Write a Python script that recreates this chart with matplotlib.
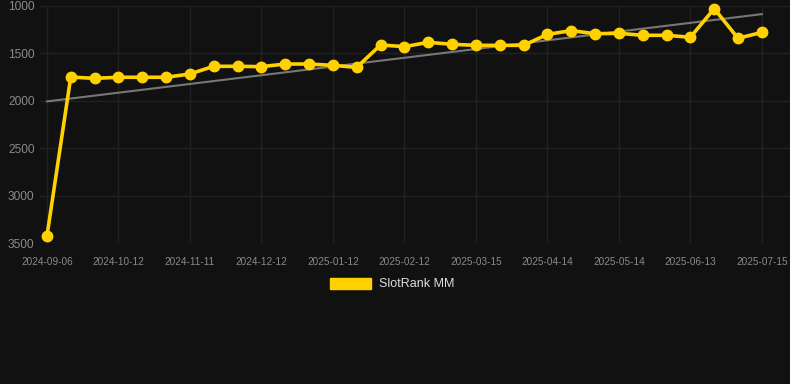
"""SlotRank MM rank history, dark theme with a linear trend line."""

import numpy as np
from matplotlib import pyplot as plt
from matplotlib.patches import Patch

# one point roughly every ten days; ticks are shown on every third point
DATES = [
    "2024-09-06", "2024-09-18", "2024-09-30",
    "2024-10-12", "2024-10-22", "2024-11-01",
    "2024-11-11", "2024-11-21", "2024-12-02",
    "2024-12-12", "2024-12-22", "2025-01-02",
    "2025-01-12", "2025-01-22", "2025-02-02",
    "2025-02-12", "2025-02-22", "2025-03-05",
    "2025-03-15", "2025-03-25", "2025-04-04",
    "2025-04-14", "2025-04-24", "2025-05-04",
    "2025-05-14", "2025-05-24", "2025-06-03",
    "2025-06-13", "2025-06-23", "2025-07-04",
    "2025-07-15",
]
RANKS = [
    3430, 1750, 1763, 1752, 1752, 1752, 1717, 1636, 1636, 1640, 1612,
    1612, 1626, 1647, 1411, 1429, 1383, 1404, 1415, 1415, 1415, 1299,
    1260, 1292, 1288, 1309, 1309, 1330, 1028, 1341, 1278,
]
Y_TICKS = [1000, 1500, 2000, 2500, 3000, 3500]
SERIES_LABEL = "SlotRank MM"

BG = "#111111"
GRID = "#212121"
TICK_TEXT = "#8a8a8a"
YELLOW = "#ffd100"

plt.rcParams["font.family"] = ["Liberation Sans", "DejaVu Sans"]

x = np.arange(len(RANKS))
ranks = np.array(RANKS, dtype=float)

fig = plt.figure(figsize=(7.9, 3.84), dpi=100, facecolor=BG)
ax = fig.add_axes([40 / 790, 1 - 243 / 384, 750 / 790, 237 / 384])
ax.set_facecolor(BG)

# trend line (least squares over the series)
slope, intercept = np.polyfit(x, ranks, 1)
ax.plot(x[[0, -1]], slope * x[[0, -1]] + intercept, color="#777777",
        linewidth=1.5, zorder=2)

ax.plot(x, ranks, color=YELLOW, linewidth=2.6, marker="o", markersize=7.5,
        markerfacecolor=YELLOW, markeredgecolor=YELLOW, zorder=3,
        clip_on=False)

ax.set_ylim(3500, 1000)
ax.set_yticks(Y_TICKS)
ax.set_xlim(-0.29, 31.18)
tick_idx = x[::3]
ax.set_xticks(tick_idx)
ax.set_xticklabels([DATES[i] for i in tick_idx])

ax.grid(True, color=GRID, linewidth=1.0)
ax.set_axisbelow(True)
for spine in ax.spines.values():
    spine.set_visible(False)
ax.tick_params(axis="y", length=0, pad=4, labelsize=8.6, labelcolor=TICK_TEXT)
ax.tick_params(axis="x", length=0, pad=10, labelsize=7.2, labelcolor=TICK_TEXT)

fig.legend(
    handles=[Patch(facecolor=YELLOW, edgecolor=YELLOW, label=SERIES_LABEL)],
    loc="center",
    bbox_to_anchor=(392 / 790, 1 - 284 / 384),
    frameon=False,
    fontsize=9,
    labelcolor="#dddddd",
    handlelength=3.3,
    handleheight=1.0,
    handletextpad=0.6,
)

fig.savefig("out.png", dpi=100, facecolor=BG)
